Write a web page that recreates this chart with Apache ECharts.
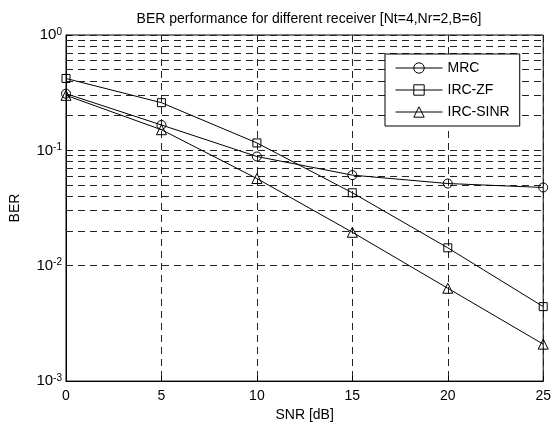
<!DOCTYPE html>
<html>
<head>
<meta charset="utf-8">
<script src="https://cdn.jsdelivr.net/npm/echarts@6/dist/echarts.min.js"></script>
<style>
  html, body { margin: 0; padding: 0; background: #fff; }
  #chart { width: 554px; height: 427px; }
</style>
</head>
<body>
<div id="chart"></div>
<script>
// data
var snr = [0, 5, 10, 15, 20, 25]
var mrc = [0.31, 0.166, 0.0885, 0.061, 0.0516, 0.0477]
var ircZf = [0.42, 0.259, 0.116, 0.0429, 0.0143, 0.00442]
var ircSinr = [0.30, 0.151, 0.057, 0.0195, 0.00638, 0.00209]
// y tick labels (10^exp)
var yTickExps = ['0', '-1', '-2', '-3']
// minor log grid lines
var minorGrid = [0.2, 0.3, 0.4, 0.5, 0.6, 0.7, 0.8, 0.9,
  0.02, 0.03, 0.04, 0.05, 0.06, 0.07, 0.08, 0.09,
  0.002, 0.003, 0.004, 0.005, 0.006, 0.007, 0.008, 0.009]

var font = '"Liberation Sans", Arial, Helvetica, sans-serif'
var gridColor = '#222'
var dash = [7, 5]

function pairs(ys) {
  return snr.map(function (x, i) { return [x, ys[i]] })
}

var myChart = echarts.init(document.getElementById('chart'))
var option = {
  animation: false,
  backgroundColor: '#fff',
  textStyle: { fontFamily: font, color: '#000' },
  title: {
    text: 'BER performance for different receiver [Nt=4,Nr=2,B=6]',
    left: 304,
    top: 7,
    textAlign: 'center',
    textStyle: { fontFamily: font, fontSize: 14, fontWeight: 'normal', color: '#000' }
  },
  grid: {
    left: 64, right: 9, top: 35, bottom: 43,
    show: true, borderColor: '#000', borderWidth: 1
  },
  legend: {
    orient: 'vertical',
    left: 385, top: 54,
    width: 137,
    padding: [7, 10, 7, 10],
    itemWidth: 47, itemHeight: 13, itemGap: 8,
    backgroundColor: '#fff',
    borderColor: '#000', borderWidth: 1,
    lineStyle: { width: 1, color: '#000' },
    itemStyle: { color: 'rgba(0,0,0,0)', borderColor: '#000', borderWidth: 1 },
    textStyle: { fontFamily: font, fontSize: 14, color: '#000' },
    data: ['MRC', 'IRC-ZF', 'IRC-SINR']
  },
  xAxis: {
    type: 'value',
    min: 0, max: 25, interval: 5,
    name: 'SNR [dB]',
    nameLocation: 'middle',
    nameGap: 26,
    nameTextStyle: { fontFamily: font, fontSize: 14, color: '#000' },
    axisLine: { show: true, lineStyle: { color: '#000' } },
    axisTick: { show: true, inside: true, length: 5, lineStyle: { color: '#000' } },
    axisLabel: { fontFamily: font, fontSize: 14, color: '#000', margin: 8 },
    splitLine: { show: true, lineStyle: { color: gridColor, type: dash, width: 1 } }
  },
  yAxis: {
    type: 'log',
    logBase: 10,
    min: 0.001, max: 1,
    name: 'BER',
    nameLocation: 'middle',
    nameGap: 44,
    nameTextStyle: { fontFamily: font, fontSize: 14, color: '#000' },
    axisLine: { show: true, lineStyle: { color: '#000' } },
    axisTick: { show: true, inside: true, length: 5, lineStyle: { color: '#000' } },
    axisLabel: {
      margin: 4,
      formatter: function (v) {
        var e = Math.round(-Math.log10(v))
        return '{b|10}{s|' + yTickExps[e] + '}'
      },
      rich: {
        b: { fontFamily: font, fontSize: 15, color: '#000', lineHeight: 16 },
        s: { fontFamily: font, fontSize: 10, color: '#000', verticalAlign: 'top', lineHeight: 10, padding: [0, 0, 10, 0] }
      }
    },
    splitLine: { show: true, lineStyle: { color: gridColor, type: dash, width: 1 } }
  },
  series: [
    {
      name: 'MRC',
      type: 'line',
      data: pairs(mrc),
      symbol: 'circle',
      symbolSize: 9,
      showAllSymbol: true,
      lineStyle: { color: '#000', width: 1 },
      itemStyle: { color: 'rgba(0,0,0,0)', borderColor: '#000', borderWidth: 1 },
      z: 3,
      markLine: {
        silent: true,
        symbol: ['none', 'none'],
        label: { show: false },
        lineStyle: { color: gridColor, type: dash, width: 1 },
        data: minorGrid.map(function (v) { return { yAxis: v } }),
        z: 1
      }
    },
    {
      name: 'IRC-ZF',
      type: 'line',
      data: pairs(ircZf),
      symbol: 'rect',
      symbolSize: 8,
      showAllSymbol: true,
      lineStyle: { color: '#000', width: 1 },
      itemStyle: { color: 'rgba(0,0,0,0)', borderColor: '#000', borderWidth: 1 },
      z: 3
    },
    {
      name: 'IRC-SINR',
      type: 'line',
      data: pairs(ircSinr),
      symbol: 'triangle',
      symbolSize: 10,
      showAllSymbol: true,
      lineStyle: { color: '#000', width: 1 },
      itemStyle: { color: 'rgba(0,0,0,0)', borderColor: '#000', borderWidth: 1 },
      z: 3
    }
  ]
}
myChart.setOption(option)
</script>
</body>
</html>
